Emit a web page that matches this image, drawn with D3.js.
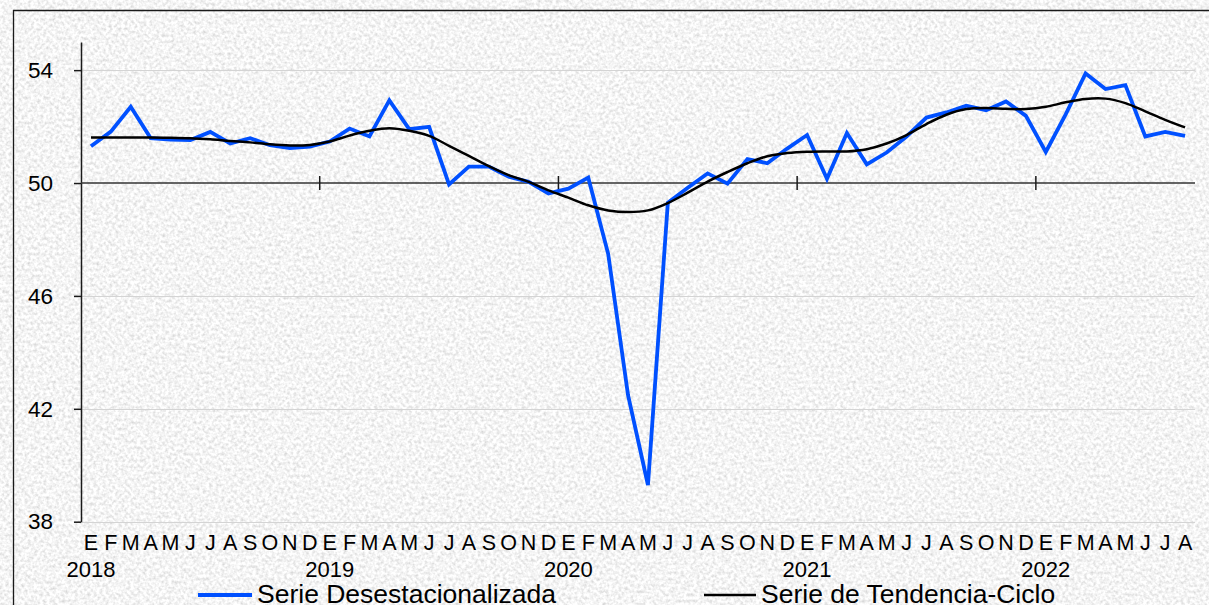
<!DOCTYPE html>
<html>
<head>
<meta charset="utf-8">
<script src="https://cdn.jsdelivr.net/npm/d3@7"></script>
<style>
  html, body { margin: 0; padding: 0; background: #e6e6e6; }
  svg { display: block; }
  text { font-family: "Liberation Sans", Arial, sans-serif; fill: #000; }
</style>
</head>
<body>
<svg id="chart" width="1209" height="605"></svg>
<script>
// ---- Data ----
const categories = [
  "2018-01","2018-02","2018-03","2018-04","2018-05","2018-06","2018-07","2018-08","2018-09","2018-10","2018-11","2018-12",
  "2019-01","2019-02","2019-03","2019-04","2019-05","2019-06","2019-07","2019-08","2019-09","2019-10","2019-11","2019-12",
  "2020-01","2020-02","2020-03","2020-04","2020-05","2020-06","2020-07","2020-08","2020-09","2020-10","2020-11","2020-12",
  "2021-01","2021-02","2021-03","2021-04","2021-05","2021-06","2021-07","2021-08","2021-09","2021-10","2021-11","2021-12",
  "2022-01","2022-02","2022-03","2022-04","2022-05","2022-06","2022-07","2022-08"
];
const monthLetters = ["E","F","M","A","M","J","J","A","S","O","N","D"];
const yearLabels = ["2018","2019","2020","2021","2022"];
const yTicks = [38, 42, 46, 50, 54];
const seriesNames = ["Serie Desestacionalizada", "Serie de Tendencia-Ciclo"];

const desestacionalizada = [
  51.30, 51.82, 52.70, 51.59, 51.54, 51.52, 51.81, 51.40, 51.59, 51.34, 51.24, 51.29,
  51.47, 51.93, 51.65, 52.93, 51.91, 51.99, 49.95, 50.58, 50.58, 50.22, 50.04, 49.63,
  49.80, 50.19, 47.49, 42.48, 39.30, 49.30, 49.83, 50.34, 49.98, 50.85, 50.70, 51.22,
  51.70, 50.15, 51.77, 50.66, 51.08, 51.65, 52.32, 52.50, 52.74, 52.58, 52.89, 52.38,
  51.10, 52.43, 53.88, 53.33, 53.47, 51.65, 51.81, 51.67
];
const tendencia = [
  51.61, 51.61, 51.61, 51.61, 51.60, 51.59, 51.55, 51.49, 51.44, 51.37, 51.33, 51.35,
  51.47, 51.68, 51.85, 51.94, 51.85, 51.67, 51.32, 50.96, 50.60, 50.28, 50.04, 49.74,
  49.48, 49.21, 49.03, 48.97, 49.03, 49.29, 49.66, 50.05, 50.39, 50.70, 50.95, 51.06,
  51.11, 51.12, 51.12, 51.20, 51.40, 51.70, 52.09, 52.42, 52.62, 52.66, 52.63, 52.62,
  52.70, 52.86, 52.98, 52.99, 52.83, 52.54, 52.24, 51.97
];

// ---- Layout ----
const svg = d3.select("#chart");
const W = 1209, H = 605;
const plot = { left: 81, right: 1195, top: 41.9, bottom: 521.7 };

const x = d3.scaleBand().domain(categories).range([plot.left, plot.right]).paddingInner(0).paddingOuter(0);
const y = d3.scaleLinear().domain([38, 55]).range([plot.bottom, plot.top]);
const cx = c => x(c) + x.bandwidth() / 2;

// ---- Background texture ----
const defs = svg.append("defs");
const f = defs.append("filter").attr("id", "granite").attr("x", 0).attr("y", 0).attr("width", "100%").attr("height", "100%");
f.append("feTurbulence").attr("type", "fractalNoise").attr("baseFrequency", 0.32).attr("numOctaves", 2).attr("seed", 7).attr("result", "n");
f.append("feColorMatrix").attr("in", "n").attr("type", "matrix")
  .attr("values", "0.62 0 0 0 0.6  0.62 0 0 0 0.6  0.62 0 0 0 0.6  0 0 0 0 1");
svg.append("rect").attr("width", W).attr("height", H).attr("fill", "#e8e8e8");
svg.append("rect").attr("width", W).attr("height", H).attr("filter", "url(#granite)");

// Outer border
svg.append("path").attr("d", `M13.5,${H} L13.5,10.5 L${W},10.5`)
  .attr("fill", "none").attr("stroke", "#1a1a1a").attr("stroke-width", 1.3);

// ---- Gridlines ----
svg.append("g").selectAll("line").data(yTicks.filter(v => v !== 50)).join("line")
  .attr("x1", plot.left).attr("x2", plot.right)
  .attr("y1", d => Math.round(y(d)) + 0.5).attr("y2", d => Math.round(y(d)) + 0.5)
  .attr("stroke", "#d4d4d4").attr("stroke-width", 1.2);

// ---- Y axis ----
const yAxis = d3.axisLeft(y).tickValues(yTicks).tickSize(7).tickSizeOuter(0).tickPadding(21)
  .tickFormat(d3.format("d"));
const gy = svg.append("g").attr("transform", `translate(${plot.left},0)`).call(yAxis);
gy.select(".domain").attr("stroke", "#1a1a1a").attr("stroke-width", 1.5);
gy.selectAll(".tick line").attr("stroke", "#1a1a1a").attr("stroke-width", 1.5);
gy.selectAll(".tick text").style("font-family", "'Liberation Sans', Arial, sans-serif")
  .style("font-size", "22.5px").attr("fill", "#000");

// ---- X axis at 50 ----
const y50 = y(50);
svg.append("line").attr("x1", plot.left).attr("x2", plot.right)
  .attr("y1", y50).attr("y2", y50).attr("stroke", "#333").attr("stroke-width", 1.5);
const yearStarts = categories.filter(c => c.endsWith("-01") && c !== categories[0]);
svg.append("g").selectAll("line").data(yearStarts).join("line")
  .attr("x1", d => x(d)).attr("x2", d => x(d))
  .attr("y1", y50 - 7).attr("y2", y50 + 7)
  .attr("stroke", "#1a1a1a").attr("stroke-width", 1.5);

// Month labels
svg.append("g").selectAll("text").data(categories).join("text")
  .attr("x", d => cx(d)).attr("y", 549.5)
  .attr("text-anchor", "middle").style("font-size", "21.5px")
  .text(d => monthLetters[+d.slice(5) - 1]);

// Year labels
svg.append("g").selectAll("text").data(yearLabels).join("text")
  .attr("x", d => cx(d + "-01")).attr("y", 577)
  .attr("text-anchor", "middle").style("font-size", "22px")
  .text(d => d);

// ---- Lines ----
const lineLinear = d3.line().x((d, i) => cx(categories[i])).y(d => y(d));
const lineSmooth = d3.line().x((d, i) => cx(categories[i])).y(d => y(d)).curve(d3.curveCatmullRom.alpha(0.5));

svg.append("path").datum(desestacionalizada).attr("d", lineLinear)
  .attr("fill", "none").attr("stroke", "#0050ff").attr("stroke-width", 3.8)
  .attr("stroke-linejoin", "miter").attr("stroke-miterlimit", 3);
svg.append("path").datum(tendencia).attr("d", lineSmooth)
  .attr("fill", "none").attr("stroke", "#000").attr("stroke-width", 2.5);

// ---- Legend ----
const legend = [
  { name: seriesNames[0], color: "#0050ff", w: 3.8, x1: 198, x2: 252, tx: 257 },
  { name: seriesNames[1], color: "#000", w: 2.5, x1: 704, x2: 756, tx: 761 }
];
const lg = svg.append("g");
lg.selectAll("line").data(legend).join("line")
  .attr("x1", d => d.x1).attr("x2", d => d.x2).attr("y1", 595).attr("y2", 595)
  .attr("stroke", d => d.color).attr("stroke-width", d => d.w);
lg.selectAll("text").data(legend).join("text")
  .attr("x", d => d.tx).attr("y", 603).style("font-size", "26.5px")
  .text(d => d.name);
</script>
</body>
</html>
